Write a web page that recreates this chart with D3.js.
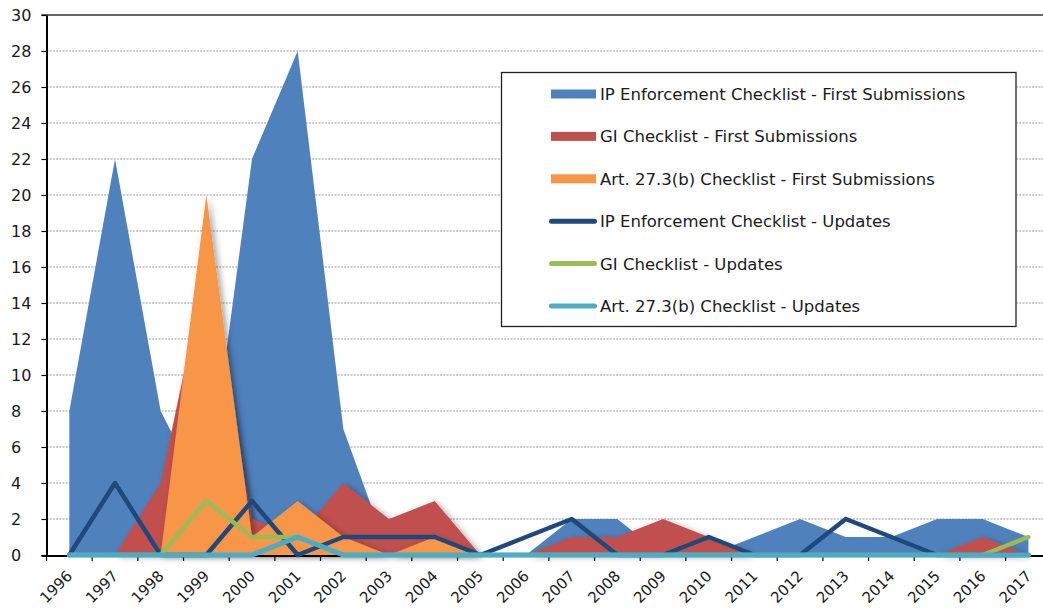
<!DOCTYPE html>
<html>
<head>
<meta charset="utf-8">
<script src="https://cdn.jsdelivr.net/npm/d3@7"></script>
<style>
  html, body { margin: 0; padding: 0; background: #fff; }
  svg { display: block; font-family: "DejaVu Sans", Verdana, sans-serif; }
</style>
</head>
<body>
<svg id="chart" width="1043" height="608"></svg>
<script>
// Checklist submissions per year
const years = ["1996","1997","1998","1999","2000","2001","2002","2003","2004","2005","2006",
               "2007","2008","2009","2010","2011","2012","2013","2014","2015","2016","2017"];

const ipFirst  = [8,22,8,3,22,28,7,0,0,0,0,2,2,0,0,1,2,1,1,2,2,1];
const giFirst  = [0,0,4,16,2,1,4,2,3,0,0,1,1,2,1,0,0,0,0,0,1,0];
const artFirst = [0,0,0,20,1,3,1,0,1,0,0,0,0,0,0,0,0,0,0,0,0,0];

const ipUpdates  = [0,4,0,0,3,0,1,1,1,0,1,2,0,0,1,0,0,2,1,0,0,0];
const giUpdates  = [0,0,0,3,1,1,0,0,0,0,0,0,0,0,0,0,0,0,0,0,0,1];
const artUpdates = [0,0,0,0,0,1,0,0,0,0,0,0,0,0,0,0,0,0,0,0,0,0];

const yTicks = [0,2,4,6,8,10,12,14,16,18,20,22,24,26,28,30];

const areaSeries = [
  { name: "IP Enforcement Checklist - First Submissions", values: ipFirst,  color: "#4F81BD", shadow: false },
  { name: "GI Checklist - First Submissions",             values: giFirst,  color: "#C0504D", shadow: true },
  { name: "Art. 27.3(b) Checklist - First Submissions",   values: artFirst, color: "#F79646", shadow: true }
];
const lineSeries = [
  { name: "IP Enforcement Checklist - Updates", values: ipUpdates,  color: "#1F497D", width: 4.5 },
  { name: "GI Checklist - Updates",             values: giUpdates,  color: "#9BBB59", width: 4.5 },
  { name: "Art. 27.3(b) Checklist - Updates",   values: artUpdates, color: "#4BACC6", width: 5 }
];

const svg = d3.select("#chart");
const plotLeft = 46.5, plotTop = 15, plotBottom = 555;
const band = 45.67;
const plotRight = plotLeft + band * years.length;

const x = d3.scaleBand().domain(years).range([plotLeft, plotRight]).padding(0);
const cx = yr => x(yr) + x.bandwidth() / 2;
const y = d3.scaleLinear().domain([0, 30]).range([plotBottom, plotTop]);

// drop shadow for some of the filled series
const defs = svg.append("defs");
const f = defs.append("filter").attr("id", "shadow")
  .attr("x", "-20%").attr("y", "-20%").attr("width", "140%").attr("height", "140%");
f.append("feDropShadow").attr("dx", 3).attr("dy", 2).attr("stdDeviation", 3)
  .attr("flood-color", "#000").attr("flood-opacity", 0.35);

// horizontal dotted gridlines
svg.append("g").selectAll("line")
  .data(yTicks.filter(v => v > 0 && v < 30))
  .join("line")
  .attr("x1", plotLeft).attr("x2", 1043)
  .attr("y1", d => y(d)).attr("y2", d => y(d))
  .attr("stroke", "#9a9a9a").attr("stroke-width", 1)
  .attr("stroke-dasharray", "2,1.2");

// top border line
svg.append("line")
  .attr("x1", plotLeft - 5).attr("x2", 1043)
  .attr("y1", y(30)).attr("y2", y(30))
  .attr("stroke", "#333").attr("stroke-width", 1.6);

// filled areas
const area = d3.area()
  .x((d, i) => cx(years[i]))
  .y0(y(0))
  .y1(d => y(d));

svg.append("g").selectAll("path")
  .data(areaSeries)
  .join("path")
  .attr("d", d => area(d.values))
  .attr("fill", d => d.color)
  .attr("filter", d => d.shadow ? "url(#shadow)" : null);

// y axis
const yAxis = svg.append("g")
  .attr("transform", `translate(${plotLeft},0)`)
  .call(d3.axisLeft(y).tickValues(yTicks).tickSize(5).tickSizeOuter(0).tickFormat(d3.format("d")));
yAxis.select(".domain").attr("stroke", "#000").attr("stroke-width", 2);
yAxis.selectAll(".tick line").attr("stroke", "#000").attr("stroke-width", 1.2);
yAxis.selectAll(".tick text")
  .attr("x", -(plotLeft - 11)).attr("text-anchor", "start")
  .attr("font-size", 16).attr("fill", "#1a1a1a")
  .attr("font-family", "DejaVu Sans, Verdana, sans-serif");

// x axis: baseline, boundary ticks and rotated year labels
const xAxis = svg.append("g").attr("transform", `translate(0,${plotBottom})`);
xAxis.append("line")
  .attr("x1", plotLeft - 5).attr("x2", 1043).attr("y1", 1).attr("y2", 1)
  .attr("stroke", "#000").attr("stroke-width", 2.2);
xAxis.selectAll("line.tk")
  .data(years.concat(["end"]))
  .join("line").attr("class", "tk")
  .attr("x1", d => d === "end" ? plotRight : x(d))
  .attr("x2", d => d === "end" ? plotRight : x(d))
  .attr("y1", 0).attr("y2", 6)
  .attr("stroke", "#000").attr("stroke-width", 1.2);
xAxis.selectAll("text")
  .data(years)
  .join("text")
  .attr("transform", d => `translate(${cx(d) + 4},${22}) rotate(-45)`)
  .attr("text-anchor", "end")
  .attr("font-size", 15)
  .attr("fill", "#1a1a1a")
  .text(d => d);

// update lines
const line = d3.line()
  .x((d, i) => cx(years[i]))
  .y(d => y(d));

svg.append("g").selectAll("path")
  .data(lineSeries)
  .join("path")
  .attr("d", d => line(d.values))
  .attr("fill", "none")
  .attr("stroke", d => d.color)
  .attr("stroke-width", d => d.width)
  .attr("stroke-linejoin", "round")
  .attr("stroke-linecap", "round");

// legend
const lg = svg.append("g");
lg.append("rect")
  .attr("x", 501.5).attr("y", 72.5).attr("width", 514.5).attr("height", 254)
  .attr("fill", "#fff").attr("stroke", "#222").attr("stroke-width", 1.3);

const rowY = i => 94 + i * 42.4;
const items = areaSeries.map(s => ({ ...s, kind: "area" }))
  .concat(lineSeries.map(s => ({ ...s, kind: "line" })));

const rows = lg.selectAll("g.row").data(items).join("g").attr("class", "row")
  .attr("transform", (d, i) => `translate(0,${rowY(i)})`);

rows.filter(d => d.kind === "area").append("rect")
  .attr("x", 551).attr("y", -4.5).attr("width", 45).attr("height", 9)
  .attr("fill", d => d.color);
rows.filter(d => d.kind === "line").append("line")
  .attr("x1", 551.5).attr("x2", 594.5).attr("y1", 0).attr("y2", 0)
  .attr("stroke", d => d.color).attr("stroke-width", 5).attr("stroke-linecap", "round");
rows.append("text")
  .attr("x", 600).attr("y", 0).attr("dy", "0.36em")
  .attr("font-size", 16.5).attr("fill", "#1a1a1a")
  .text(d => d.name);
</script>
</body>
</html>
